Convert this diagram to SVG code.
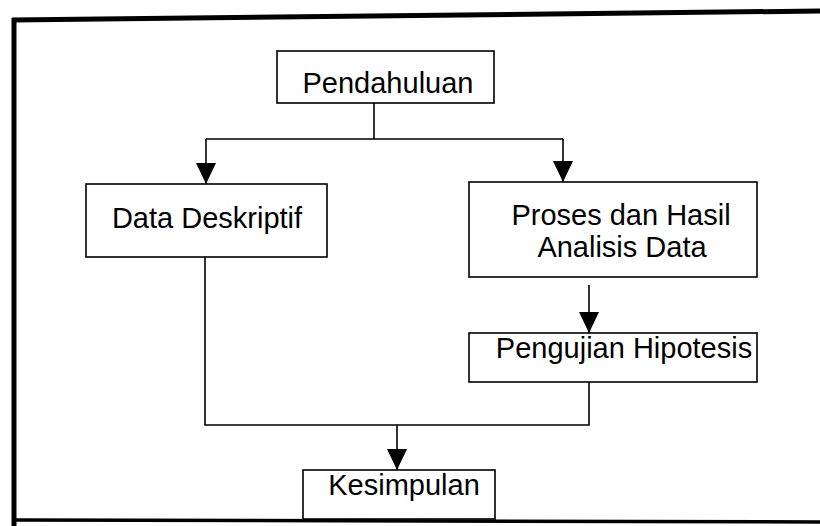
<svg xmlns="http://www.w3.org/2000/svg" width="820" height="526" viewBox="0 0 820 526">
  <style>
    .box { fill: #ffffff; stroke: #000000; stroke-width: 1.6; }
    .lbl { font-family: "Liberation Sans", Arial, sans-serif; font-size: 29px; fill: #000000; text-anchor: middle; }
    .wire { fill: none; stroke: #000000; stroke-width: 1.6; }
    .frame { stroke: #000000; fill: none; }
  </style>
  <defs>
    <marker id="arrow" markerUnits="userSpaceOnUse" markerWidth="22" markerHeight="20" viewBox="0 0 22 20" refX="21" refY="10" orient="auto">
      <path d="M0,0 L21,10 L0,20 Z" fill="#000000"/>
    </marker>
  </defs>

  <rect width="820" height="526" fill="#ffffff"/>

  <!-- outer frame -->
  <g id="frame">
    <line class="frame" x1="12" y1="20" x2="820" y2="11" stroke-width="5"/>
    <line class="frame" x1="14" y1="18" x2="14" y2="526" stroke-width="5"/>
    <line class="frame" x1="14" y1="520" x2="820" y2="522" stroke-width="3.5"/>
  </g>

  <!-- connectors -->
  <g id="connectors">
    <path class="wire" d="M374,103 V139 M206,139 H563"/>
    <path class="wire" d="M206,139 V184" marker-end="url(#arrow)"/>
    <path class="wire" d="M563,139 V182" marker-end="url(#arrow)"/>
    <path class="wire" d="M589,285 V333" marker-end="url(#arrow)"/>
    <path class="wire" d="M205,257 V425 H589 V382"/>
    <path class="wire" d="M397,425 V470" marker-end="url(#arrow)"/>
  </g>

  <g id="pendahuluan">
    <rect class="box" x="277" y="51" width="217" height="52"/>
    <text class="lbl" x="388" y="93">Pendahuluan</text>
  </g>

  <g id="data-deskriptif">
    <rect class="box" x="86" y="184" width="241" height="73"/>
    <text class="lbl" x="207" y="228">Data Deskriptif</text>
  </g>

  <g id="proses-analisis">
    <rect class="box" x="469" y="182" width="288" height="95"/>
    <text class="lbl" x="621" y="225">Proses dan Hasil</text>
    <text class="lbl" x="622" y="257">Analisis Data</text>
  </g>

  <g id="pengujian-hipotesis">
    <rect class="box" x="469" y="333" width="288" height="49"/>
    <text class="lbl" x="624" y="358">Pengujian Hipotesis</text>
  </g>

  <g id="kesimpulan">
    <rect class="box" x="303" y="470" width="192" height="49"/>
    <text class="lbl" x="404" y="495">Kesimpulan</text>
  </g>
</svg>
